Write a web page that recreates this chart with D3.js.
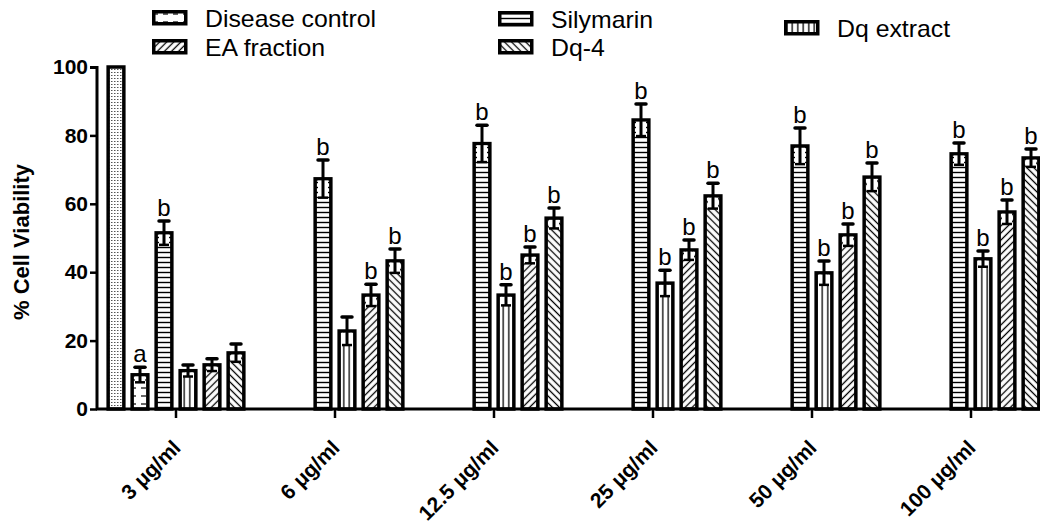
<!DOCTYPE html>
<html>
<head>
<meta charset="utf-8">
<script src="https://cdn.jsdelivr.net/npm/d3@7"></script>
<style>
  body { margin: 0; background: #fff; }
  text { font-family: Arial, "Liberation Sans", sans-serif; }
</style>
</head>
<body>
<div id="chart"></div>
<script>
// data
var doses = ['3 μg/ml', '6 μg/ml', '12.5 μg/ml', '25 μg/ml', '50 μg/ml', '100 μg/ml'];
var seriesNames = ['Normal control', 'Disease control', 'Silymarin', 'Dq extract', 'EA fraction', 'Dq-4'];

var normalMean = [100, null, null, null, null, null];
var normalSd = [0, null, null, null, null, null];
var diseaseMean = [10, null, null, null, null, null];
var diseaseSd = [2.2, null, null, null, null, null];
var silymarinMean = [51.5, 67.3, 77.6, 84.5, 76.9, 74.6];
var silymarinSd = [3.5, 5.5, 5.4, 4.7, 5.3, 3.2];
var dqExtractMean = [11.2, 22.8, 33.3, 36.8, 39.8, 43.9];
var dqExtractSd = [1.7, 4.1, 3.0, 3.8, 3.5, 2.3];
var eaMean = [12.9, 33.3, 45.0, 46.5, 50.9, 57.6];
var eaSd = [1.8, 3.2, 2.4, 2.9, 3.2, 3.5];
var dq4Mean = [16.4, 43.3, 55.8, 62.3, 67.8, 73.4];
var dq4Sd = [2.6, 3.5, 3.0, 3.7, 4.1, 2.6];

var normalSig = ['', '', '', '', '', ''];
var diseaseSig = ['a', '', '', '', '', ''];
var silymarinSig = ['b', 'b', 'b', 'b', 'b', 'b'];
var dqExtractSig = ['', '', 'b', 'b', 'b', 'b'];
var eaSig = ['', 'b', 'b', 'b', 'b', 'b'];
var dq4Sig = ['', 'b', 'b', 'b', 'b', 'b'];

var yTicks = [0, 20, 40, 60, 80, 100];
var legendNames = ['Disease control', 'Silymarin', 'Dq extract', 'EA fraction', 'Dq-4'];

// set up svg
var svgWidth = 1040;
var svgHeight = 529;

var svg = d3.select('#chart')
    .append('svg')
    .attr('width', svgWidth)
    .attr('height', svgHeight);

// fill patterns
var defs = svg.append('defs');

var pNormal = defs.append('pattern').attr('id', 'p0')
    .attr('patternUnits', 'userSpaceOnUse').attr('width', 3).attr('height', 3);
pNormal.append('rect').attr('width', 3).attr('height', 3).attr('fill', '#fff');
pNormal.append('rect').attr('x', 0).attr('y', 0).attr('width', 1.5).attr('height', 1).attr('fill', '#555');

var pDisease = defs.append('pattern').attr('id', 'p1')
    .attr('patternUnits', 'userSpaceOnUse').attr('width', 10).attr('height', 8);
pDisease.append('rect').attr('width', 10).attr('height', 8).attr('fill', '#fff');
pDisease.append('line').attr('x1', 1).attr('x2', 6).attr('y1', 4).attr('y2', 4)
    .attr('stroke', '#000').attr('stroke-width', 1.2);

var pSily = defs.append('pattern').attr('id', 'p2')
    .attr('patternUnits', 'userSpaceOnUse').attr('width', 6).attr('height', 5);
pSily.append('rect').attr('width', 6).attr('height', 5).attr('fill', '#fff');
pSily.append('line').attr('x1', 0).attr('x2', 6).attr('y1', 2.5).attr('y2', 2.5)
    .attr('stroke', '#000').attr('stroke-width', 1.4);

var pDq = defs.append('pattern').attr('id', 'p3')
    .attr('patternUnits', 'userSpaceOnUse').attr('width', 5.5).attr('height', 6);
pDq.append('rect').attr('width', 5.5).attr('height', 6).attr('fill', '#fff');
pDq.append('line').attr('x1', 2.75).attr('x2', 2.75).attr('y1', 0).attr('y2', 6)
    .attr('stroke', '#000').attr('stroke-width', 1.3);

var pEa = defs.append('pattern').attr('id', 'p4')
    .attr('patternUnits', 'userSpaceOnUse').attr('width', 5).attr('height', 5)
    .attr('patternTransform', 'rotate(45)');
pEa.append('rect').attr('width', 5).attr('height', 5).attr('fill', '#fff');
pEa.append('line').attr('x1', 2.5).attr('x2', 2.5).attr('y1', 0).attr('y2', 5)
    .attr('stroke', '#000').attr('stroke-width', 1.3);

var pDq4 = defs.append('pattern').attr('id', 'p5')
    .attr('patternUnits', 'userSpaceOnUse').attr('width', 5).attr('height', 5)
    .attr('patternTransform', 'rotate(-45)');
pDq4.append('rect').attr('width', 5).attr('height', 5).attr('fill', '#fff');
pDq4.append('line').attr('x1', 2.5).attr('x2', 2.5).attr('y1', 0).attr('y2', 5)
    .attr('stroke', '#000').attr('stroke-width', 1.3);

var fills = ['url(#p0)', 'url(#p1)', 'url(#p2)', 'url(#p3)', 'url(#p4)', 'url(#p5)'];

// build table
var means = [normalMean, diseaseMean, silymarinMean, dqExtractMean, eaMean, dq4Mean];
var sds = [normalSd, diseaseSd, silymarinSd, dqExtractSd, eaSd, dq4Sd];
var sigs = [normalSig, diseaseSig, silymarinSig, dqExtractSig, eaSig, dq4Sig];

var data = [];
doses.forEach(function(dose, i) {
    seriesNames.forEach(function(s, j) {
        if (means[j][i] != null) {
            data.push({dose: dose, series: s, idx: j, mean: means[j][i], sd: sds[j][i], sig: sigs[j][i]});
        }
    });
});

// scales
var x0 = d3.scaleBand()
    .domain(doses)
    .range([96.5, 1050.5])
    .padding(0);

var x1 = d3.scaleBand()
    .domain(seriesNames)
    .range([0, x0.bandwidth()])
    .paddingInner(0.2)
    .paddingOuter(0.4125);

var y = d3.scaleLinear()
    .domain([0, 100])
    .range([409, 67]);

var chartGroup = svg.append('g');

// bars
chartGroup.selectAll('.bar')
    .data(data)
    .enter()
    .append('rect')
    .attr('class', 'bar')
    .attr('x', d => x0(d.dose) + x1(d.series) + 1.75)
    .attr('y', d => y(d.mean))
    .attr('width', x1.bandwidth() - 3.5)
    .attr('height', d => y(0) - y(d.mean))
    .attr('fill', d => fills[d.idx])
    .attr('stroke', '#000')
    .attr('stroke-width', 3.5);

// error bars
var errData = data.filter(d => d.sd > 0);
var capW = 10;
var cx = d => x0(d.dose) + x1(d.series) + x1.bandwidth() / 2;

chartGroup.selectAll('.errbg')
    .data(errData)
    .enter()
    .append('rect')
    .attr('x', d => cx(d) - capW / 2)
    .attr('y', d => y(d.mean) + 1.75)
    .attr('width', capW)
    .attr('height', d => y(d.mean - d.sd) - y(d.mean) - 1.75)
    .attr('fill', '#fff');

chartGroup.selectAll('.errline')
    .data(errData)
    .enter()
    .append('line')
    .attr('x1', cx).attr('x2', cx)
    .attr('y1', d => y(d.mean + d.sd))
    .attr('y2', d => y(d.mean - d.sd))
    .attr('stroke', '#000')
    .attr('stroke-width', 3);

chartGroup.selectAll('.capTop')
    .data(errData)
    .enter()
    .append('line')
    .attr('x1', d => cx(d) - capW / 2).attr('x2', d => cx(d) + capW / 2)
    .attr('y1', d => y(d.mean + d.sd)).attr('y2', d => y(d.mean + d.sd))
    .attr('stroke', '#000')
    .attr('stroke-width', 3.5)
    .attr('stroke-linecap', 'round');

chartGroup.selectAll('.capBot')
    .data(errData)
    .enter()
    .append('line')
    .attr('x1', d => cx(d) - capW / 2).attr('x2', d => cx(d) + capW / 2)
    .attr('y1', d => y(d.mean - d.sd)).attr('y2', d => y(d.mean - d.sd))
    .attr('stroke', '#000')
    .attr('stroke-width', 2.5);

// significance letters
chartGroup.selectAll('.sig')
    .data(data.filter(d => d.sig))
    .enter()
    .append('text')
    .attr('x', cx)
    .attr('y', d => y(d.mean + d.sd) - 5)
    .attr('text-anchor', 'middle')
    .style('font-size', '24px')
    .text(d => d.sig);

// axes
var leftAxis = d3.axisLeft(y).tickValues(yTicks).tickSize(7).tickPadding(2);
var yAxisG = chartGroup.append('g')
    .attr('transform', 'translate(97,0)')
    .call(leftAxis);
yAxisG.select('.domain').attr('stroke-width', 3).attr('d', 'M-7,67.5H0V409');
yAxisG.selectAll('.tick line').attr('stroke-width', 2.5);
yAxisG.selectAll('.tick text')
    .style('font-size', '21px')
    .style('font-weight', 'bold')
    .attr('fill', '#000')
    .attr('font-family', 'Arial, "Liberation Sans", sans-serif');

var bottomAxis = d3.axisBottom(x0).tickSize(9).tickFormat('');
var xAxisG = chartGroup.append('g')
    .attr('transform', 'translate(0,409)')
    .call(bottomAxis);
xAxisG.select('.domain').attr('stroke-width', 3).attr('d', 'M96,0H1040');
xAxisG.selectAll('.tick line').attr('stroke-width', 2.5);

chartGroup.selectAll('.xlab')
    .data(doses)
    .enter()
    .append('text')
    .attr('transform', d => `translate(${x0(d) + x0.bandwidth() / 2 + 6},${449}) rotate(-45)`)
    .attr('text-anchor', 'end')
    .style('font-size', '21px')
    .style('font-weight', 'bold')
    .text(d => d);

// y axis label
chartGroup.append('text')
    .attr('transform', 'translate(29,242) rotate(-90)')
    .attr('text-anchor', 'middle')
    .style('font-size', '22px')
    .style('font-weight', 'bold')
    .text('% Cell Viability');

// legend
var legendPos = [
    {x: 152, y: 10},
    {x: 498, y: 11},
    {x: 784, y: 20},
    {x: 152, y: 39},
    {x: 498, y: 39}
];
var legend = svg.selectAll('.legend')
    .data(legendNames)
    .enter()
    .append('g')
    .attr('transform', (d, i) => `translate(${legendPos[i].x},${legendPos[i].y})`);

legend.append('rect')
    .attr('x', 1.75).attr('y', 1.75)
    .attr('width', 32).attr('height', 12)
    .attr('fill', (d, i) => fills[i + 1])
    .attr('stroke', '#000')
    .attr('stroke-width', 3.5);

legend.append('text')
    .attr('transform', 'translate(53,17) scale(1.08,1)')
    .style('font-size', '23px')
    .text(d => d);
</script>
</body>
</html>
